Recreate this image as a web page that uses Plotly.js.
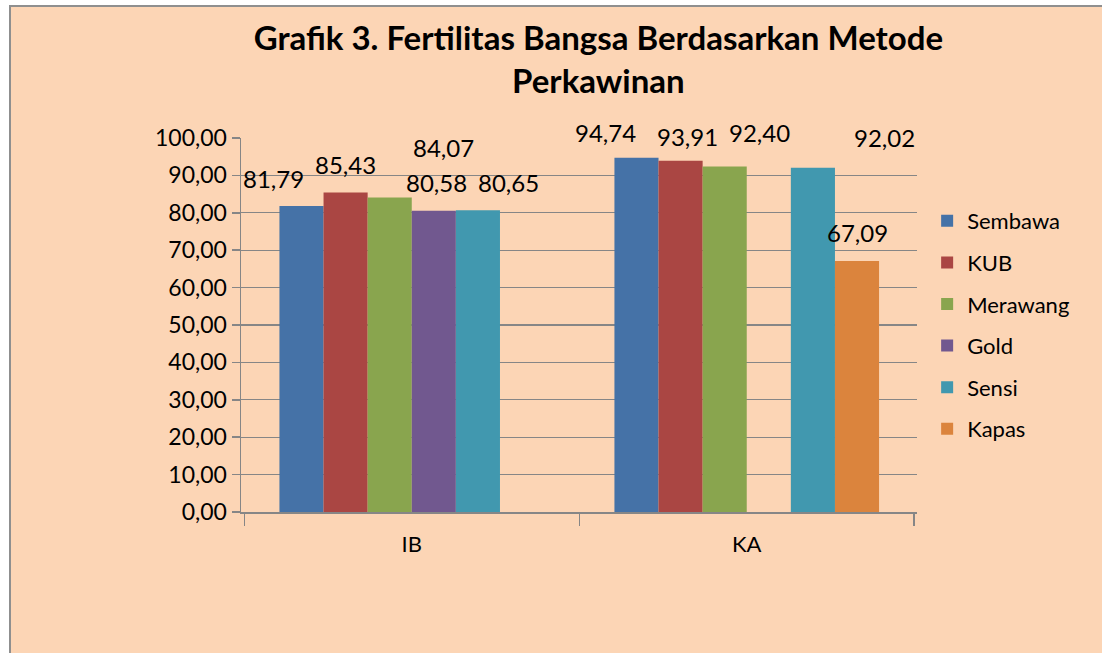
<!DOCTYPE html>
<html>
<head>
<meta charset="utf-8">
<script src="https://cdn.plot.ly/plotly-3.0.1.min.js"></script>
<style>
  body { margin: 0; background: #ffffff; }
  #frame { position: absolute; left: 9px; top: 5px; width: 1100px; height: 646px;
           background: #fcd5b5; border: 2px solid #8f8f8f; }
  #chart { position: absolute; left: 0; top: 0; width: 1102px; height: 653px; }
</style>
</head>
<body>
<div id="frame"></div>
<div id="chart"></div>
<script>
// categories (mating method)
var methods = ["IB", "KA"];

// breeds and their fertility values (%), null = no bar
var breeds   = ["Sembawa", "KUB", "Merawang", "Gold", "Sensi", "Kapas"];
var sembawa  = [81.79, 94.74];
var kub      = [85.43, 93.91];
var merawang = [84.07, 92.40];
var gold     = [80.58, null];
var sensi    = [80.65, 92.02];
var kapas    = [null, 67.09];

var colors = ["#4572a7", "#aa4643", "#89a54e", "#71588f", "#4198af", "#db843d"];

// pixel nudges of the value labels, the way Excel scattered them [dx, dy]
var labelShift = [
  [[-27, -28], [-30, -25]],
  [[0, -28],   [8, -24]],
  [[54, -50],  [35, -34]],
  [[2, -28],   [0, 0]],
  [[30, -28],  [71, -30]],
  [[0, 0],     [0, -29]]
];

var series = [sembawa, kub, merawang, gold, sensi, kapas];
var font = "Lato, 'Open Sans', sans-serif";

var bargap = 0.21;
var plotW = 1102 - 241 - 185;
var barPx = plotW / methods.length * (1 - bargap) / breeds.length;

var data = [];
var annotations = [];
series.forEach(function(vals, i){
  data.push({
    type: "bar", name: breeds[i], x: methods, y: vals,
    marker: {color: colors[i]}, legendgroup: breeds[i],
    hoverinfo: "skip"
  });
  vals.forEach(function(v, j){
    if(v === null) return;
    annotations.push({
      x: methods[j], y: v, xref: "x", yref: "y",
      text: v.toFixed(2).replace(".", ","),
      showarrow: false, yanchor: "middle",
      xshift: (i - 2.5) * barPx + labelShift[i][j][0],
      yshift: -labelShift[i][j][1],
      font: {family: font, size: 24, color: "#000"}
    });
  });
});

var layout = {
  width: 1102, height: 653,
  paper_bgcolor: "rgba(0,0,0,0)", plot_bgcolor: "rgba(0,0,0,0)",
  margin: {l: 241, r: 185, t: 138, b: 141},
  separators: ",.",
  barmode: "group", bargap: bargap, bargroupgap: 0,
  title: {
    text: "<b>Grafik 3. Fertilitas Bangsa Berdasarkan Metode<br>Perkawinan</b>",
    x: 0.543, xref: "container", xanchor: "center",
    y: 0.923, yref: "container", yanchor: "middle",
    font: {family: font, size: 33, color: "#000"}
  },
  xaxis: {
    type: "category", showline: true, linecolor: "#868686", linewidth: 1.5,
    ticks: "outside", tickson: "boundaries", ticklen: 12, tickcolor: "#868686", tickwidth: 1.5,
    ticklabelstandoff: 12, automargin: false,
    tickfont: {family: font, size: 22, color: "#000"}, showgrid: false
  },
  yaxis: {
    range: [0, 100], dtick: 10, tickformat: ".2f",
    showline: true, linecolor: "#868686", linewidth: 1.5,
    ticks: "outside", ticklen: 8, tickcolor: "#868686", tickwidth: 1.5,
    gridcolor: "#868686", gridwidth: 1.3, zeroline: false, automargin: false,
    tickfont: {family: font, size: 23, color: "#000"}
  },
  legend: {
    x: 1.015, xanchor: "left", y: 0.5, yanchor: "middle",
    font: {family: font, size: 22, color: "#000"},
    tracegroupgap: 10, bgcolor: "rgba(0,0,0,0)"
  },
  annotations: annotations,
  showlegend: true
};

Plotly.newPlot("chart", data, layout, {displayModeBar: false, staticPlot: true});
</script>
</body>
</html>
